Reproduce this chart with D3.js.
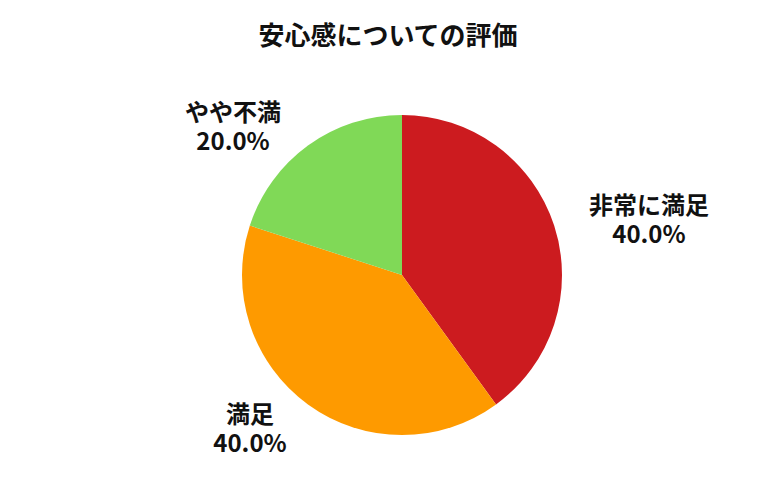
<!DOCTYPE html>
<html lang="ja">
<head>
    <meta charset="utf-8"/>
    <title>安心感についての評価</title>
    <script src="https://d3js.org/d3.v7.min.js"></script>
    <style>
        body { margin: 0; background: #fff; }
        text { font-family: "Noto Sans CJK JP", "Noto Sans", sans-serif; font-weight: bold; fill: #111; }
    </style>
</head>
<body>
<div id="viz">
    <svg width="780" height="500"></svg>
</div>

<script type="text/javascript">

    // datos
    const categories = ["非常に満足", "満足", "やや不満"];
    const values = [40.0, 40.0, 20.0];
    const colors = ["#cc1b1f", "#fe9a00", "#80d957"];
    const title = "安心感についての評価";

    const svg = d3.select("svg");
    const cx = 402, cy = 275, radius = 160;
    // las etiquetas van fuera, empujadas hacia el lado del pie
    const labelRx = 165, labelRy = 187, labelDy = 1, labelPush = 0.75;
    const lineGap = 29;

    // titulo
    svg.append("text")
        .attr("x", 388)
        .attr("y", 45)
        .attr("text-anchor", "middle")
        .style("font-size", "26px")
        .text(title);

    const pie = d3.pie().sort(null).value(d => d)(values);
    const arc = d3.arc().innerRadius(0).outerRadius(radius);

    const g = svg.append("g")
        .attr("transform", "translate(" + cx + "," + cy + ")");

    g.selectAll("path.slice")
        .data(pie).enter()
        .append("path")
        .attr("class", "slice")
        .attr("d", arc)
        .attr("fill", (d, i) => colors[i]);

    // etiquetas, dos lineas centradas
    const labels = g.selectAll("g.label")
        .data(pie).enter()
        .append("g")
        .attr("class", "label");

    labels.append("text")
        .attr("text-anchor", "middle")
        .attr("dominant-baseline", "central")
        .attr("y", -lineGap / 2)
        .style("font-size", "24px")
        .text((d, i) => categories[i]);

    labels.append("text")
        .attr("text-anchor", "middle")
        .attr("dominant-baseline", "central")
        .attr("y", lineGap / 2)
        .style("font-size", "24px")
        .text(d => values[d.index].toFixed(1) + "%");

    labels.each(function (d) {
        const a = (d.startAngle + d.endAngle) / 2;
        const px = Math.sin(a) * labelRx;
        const py = -Math.cos(a) * labelRy + labelDy;
        const bb = this.getBBox();
        const side = px >= 0 ? 1 : -1;
        const tx = px + side * bb.width * labelPush;
        d3.select(this).attr("transform", "translate(" + tx + "," + py + ")");
    });

</script>
</body>
</html>
